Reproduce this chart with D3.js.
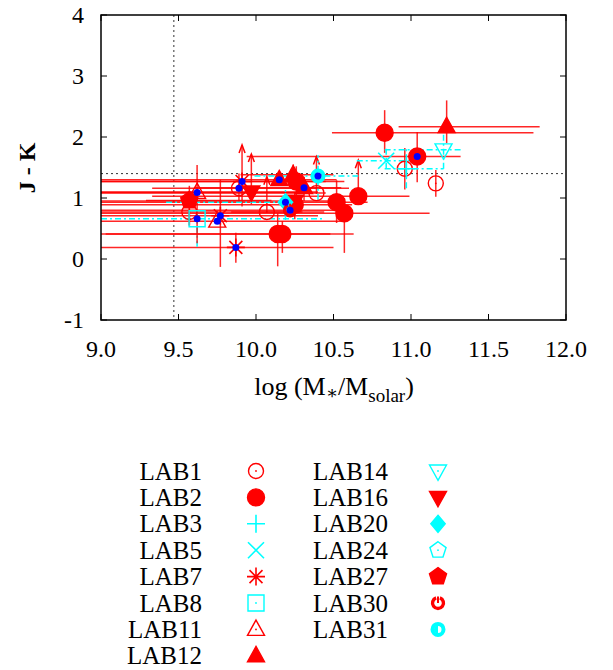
<!DOCTYPE html>
<html>
<head>
<meta charset="utf-8">
<script src="https://cdn.jsdelivr.net/npm/d3@7"></script>
<style>
body { margin: 0; background: #fff; }
text { font-family: "Liberation Serif", "DejaVu Serif", serif; fill: #000; }
</style>
</head>
<body>
<script>
// Size and plot box
const w = 613;
const h = 670;
const box = { left: 101, right: 566, top: 15, bottom: 320 };

// Axis ticks and reference lines
const xTicks = [9.0, 9.5, 10.0, 10.5, 11.0, 11.5, 12.0];
const yTicks = [-1, 0, 1, 2, 3, 4];
const xRef = 9.47;
const yRef = 1.4;

// Legend columns
const legendCol1 = ["LAB1", "LAB2", "LAB3", "LAB5", "LAB7", "LAB8", "LAB11", "LAB12"];
const legendCol2 = ["LAB14", "LAB16", "LAB20", "LAB24", "LAB27", "LAB30", "LAB31"];

// Points: x = log M, y = J-K, xl/xh & yl/yh = error range, blue = marked, up = lower-limit arrow tip
const lab1 = [
	{ x: 9.57, y: 0.77, xl: 9.0, xh: 10.3, yl: 0.55, yh: 0.95 },
	{ x: 9.89, y: 1.16, xl: 9.33, xh: 10.6, yl: 0.93, yh: 1.4, blue: true },
	{ x: 10.07, y: 0.77, xl: 9.84, xh: 10.44, up: 1.35 },
	{ x: 10.39, y: 1.08, xl: 9.0, xh: 10.45, up: 1.68 },
	{ x: 10.96, y: 1.48, yl: 1.14, yh: 1.82 },
	{ x: 11.16, y: 1.24, yl: 1.02, yh: 1.46 },
];
const lab2 = [
	{ x: 10.83, y: 2.07, xl: 10.49, xh: 11.79, yl: 1.74, yh: 2.44 },
	{ x: 11.04, y: 1.68, xl: 9.94, xh: 11.32, yl: 1.26, yh: 2.08, blue: true },
	{ x: 10.66, y: 1.03, xl: 9.33, xh: 10.99, up: 1.62 },
	{ x: 10.52, y: 0.93, xl: 9.0, xh: 10.72, yl: 0.59, yh: 1.29 },
	{ x: 10.57, y: 0.75, xl: 9.0, xh: 11.12, yl: 0.1, yh: 1.0 },
	{ x: 10.14, y: 0.41, xl: 9.03, xh: 10.63, yl: -0.12, yh: 0.75 },
	{ x: 10.17, y: 0.41, xl: 9.0, xh: 10.48, yl: 0.1, yh: 0.62 },
	{ x: 10.26, y: 1.27, xl: 9.0, xh: 10.57, yl: 1.0, yh: 1.52 },
	{ x: 10.25, y: 0.89, xl: 9.0, xh: 10.62, yl: 0.65, yh: 1.1 },
];
const lab3 = [{ x: 10.97, y: 1.48, xl: 10.83, xh: 11.21, yl: 1.16, yh: 1.82 }];
const lab5 = [{ x: 10.84, y: 1.61, xl: 10.65, xh: 11.0, yl: 1.48, yh: 1.81 }];
const lab7 = [
	{ x: 9.87, y: 0.19, xl: 9.0, xh: 10.5, yl: -0.06, yh: 0.43, blue: true },
	{ x: 9.77, y: 0.71, xl: 9.0, xh: 10.4, yl: -0.13, yh: 1.3, blue: true },
	{ x: 9.91, y: 1.27, xl: 9.0, xh: 10.45, yl: 0.86, up: 1.87, blue: true },
];
const lab8 = [{ x: 9.62, y: 0.66, xl: 9.0, xh: 10.44, yl: 0.2, yh: 0.8, blue: true }];
const lab11 = [
	{ x: 9.62, y: 1.09, xl: 9.0, xh: 10.3, yl: 0.26, yh: 1.54, blue: true },
	{ x: 9.75, y: 0.62, xl: 9.0, xh: 10.57, blue: true },
];
const lab12 = [
	{ x: 10.15, y: 1.3, xl: 9.0, xh: 10.52, blue: true },
	{ x: 10.24, y: 1.38, xl: 9.9, xh: 10.5, yl: 1.2, yh: 1.55 },
	{ x: 10.31, y: 1.17, xl: 9.6, xh: 10.55, yl: 0.95, yh: 1.35, blue: true },
	{ x: 11.23, y: 2.17, xl: 10.92, xh: 11.83, yl: 1.9, yh: 2.6 },
];
const lab14 = [{ x: 11.21, y: 1.79, xl: 10.83, xh: 11.32, yl: 1.48, yh: 2.06 }];
const lab16 = [
	{ x: 9.97, y: 1.1, xl: 9.0, xh: 10.4, yl: 0.9, up: 1.72 },
	{ x: 10.25, y: 0.95, xl: 9.0, xh: 10.55 },
];
const lab20 = [{ x: 10.19, y: 0.93, xl: 9.42, xh: 10.3, yl: 0.64, yh: 1.13, blue: true }];
const lab24 = [];
const lab27 = [{ x: 9.57, y: 0.96, xl: 9.29, xh: 10.1, yl: 0.55, yh: 1.2 }];
const lab30 = [{ x: 10.22, y: 0.8, xl: 9.0, xh: 10.5, blue: true }];
const lab31 = [{ x: 10.4, y: 1.36, xl: 9.99, xh: 10.66, yl: 0.97, yh: 1.7, blue: true }];

// Style table for each series
const red = "#ff0000";
const cyan = "#00ffff";
const series = [
	{ name: "LAB1", pts: lab1, sym: "circle", size: 7.5, color: red, fill: false },
	{ name: "LAB2", pts: lab2, sym: "circle", size: 8.5, color: red, fill: true },
	{ name: "LAB3", pts: lab3, sym: "plus", size: 9, color: cyan, fill: false, dash: true },
	{ name: "LAB5", pts: lab5, sym: "cross", size: 8, color: cyan, fill: false, dash: true },
	{ name: "LAB7", pts: lab7, sym: "star", size: 9, color: red, fill: false },
	{ name: "LAB8", pts: lab8, sym: "square", size: 8, color: cyan, fill: false, dash: true },
	{ name: "LAB11", pts: lab11, sym: "triUp", size: 8.5, color: red, fill: false },
	{ name: "LAB12", pts: lab12, sym: "triUp", size: 8.5, color: red, fill: true },
	{ name: "LAB14", pts: lab14, sym: "triDown", size: 8.5, color: cyan, fill: false, dash: true },
	{ name: "LAB16", pts: lab16, sym: "triDown", size: 8.5, color: red, fill: true },
	{ name: "LAB20", pts: lab20, sym: "diamond", size: 8.5, color: cyan, fill: true, dash: true },
	{ name: "LAB24", pts: lab24, sym: "pentagon", size: 8.5, color: cyan, fill: false, dash: true },
	{ name: "LAB27", pts: lab27, sym: "pentagon", size: 9, color: red, fill: true },
	{ name: "LAB30", pts: lab30, sym: "ringOpen", size: 5.5, color: red, fill: false },
	{ name: "LAB31", pts: lab31, sym: "ringPie", size: 5.5, color: cyan, fill: false, dash: true },
];

// Marker shapes centred on 0,0
function symPath(type, r) {
	const poly = (pts) => "M" + pts.map((p) => p.map((v) => v.toFixed(2)).join(",")).join("L") + "Z";
	switch (type) {
		case "circle":
			return `M${r},0A${r},${r} 0 1,1 ${-r},0A${r},${r} 0 1,1 ${r},0Z`;
		case "plus":
			return `M${-r},0H${r}M0,${-r}V${r}`;
		case "cross":
			return `M${-r},${-r}L${r},${r}M${-r},${r}L${r},${-r}`;
		case "star": {
			const d = r * 0.72;
			return `M${-r},0H${r}M0,${-r}V${r}M${-d},${-d}L${d},${d}M${-d},${d}L${d},${-d}`;
		}
		case "square":
			return poly([[-r, -r], [r, -r], [r, r], [-r, r]]);
		case "triUp":
			return poly([[0, -r * 1.1], [r, r * 0.7], [-r, r * 0.7]]);
		case "triDown":
			return poly([[0, r * 1.1], [r, -r * 0.7], [-r, -r * 0.7]]);
		case "diamond":
			return poly([[0, -r], [r * 0.85, 0], [0, r], [-r * 0.85, 0]]);
		case "pentagon":
			return poly(d3.range(5).map((i) => {
				const a = -Math.PI / 2 + (i * 2 * Math.PI) / 5;
				return [r * Math.cos(a), r * Math.sin(a)];
			}));
	}
	return "";
}

function drawMarker(g, s, cx, cy) {
	const m = g.append("g").attr("transform", `translate(${cx},${cy})`);
	const r = s.size;
	if (s.sym === "ringOpen") {
		// thick ring with a notch at the top and a stroke into the centre
		m.append("path")
			.attr("d", d3.arc()({ innerRadius: r - 1.7, outerRadius: r + 1.7, startAngle: 0.35, endAngle: 2 * Math.PI - 0.35 }))
			.attr("fill", s.color);
		m.append("line").attr("x1", 0).attr("x2", 0).attr("y1", -r - 1).attr("y2", 0)
			.attr("stroke", s.color).attr("stroke-width", 2);
		return m;
	}
	if (s.sym === "ringPie") {
		// thick ring with a filled quarter inside
		m.append("path")
			.attr("d", d3.arc()({ innerRadius: r - 2, outerRadius: r + 2, startAngle: 0, endAngle: 2 * Math.PI }))
			.attr("fill", s.color);
		m.append("path")
			.attr("d", d3.arc()({ innerRadius: 0, outerRadius: r - 1.5, startAngle: Math.PI, endAngle: 2 * Math.PI }))
			.attr("fill", s.color);
		return m;
	}
	const stroked = ["plus", "cross", "star"].includes(s.sym);
	m.append("path")
		.attr("d", symPath(s.sym, r))
		.attr("fill", s.fill ? s.color : "none")
		.attr("stroke", s.color)
		.attr("stroke-width", stroked ? 1.6 : 1.4)
		.attr("stroke-linejoin", "miter");
	if (!s.fill && !stroked) {
		m.append("circle").attr("r", 0.9).attr("fill", s.color);
	}
	return m;
}

// Scales
const x = d3.scaleLinear().domain([9, 12]).range([box.left, box.right]);
const y = d3.scaleLinear().domain([-1, 4]).range([box.bottom, box.top]);

const svg = d3.select("body").append("svg").attr("width", w).attr("height", h);

svg.append("defs")
	.append("clipPath")
	.attr("id", "clip")
	.append("rect")
	.attr("x", box.left)
	.attr("y", box.top)
	.attr("width", box.right - box.left)
	.attr("height", box.bottom - box.top);

// Reference lines
svg.append("line")
	.attr("x1", x(xRef)).attr("x2", x(xRef))
	.attr("y1", box.top).attr("y2", box.bottom)
	.attr("stroke", "#333").attr("stroke-width", 1).attr("stroke-dasharray", "2,3");
svg.append("line")
	.attr("x1", box.left).attr("x2", box.right)
	.attr("y1", y(yRef)).attr("y2", y(yRef))
	.attr("stroke", "#333").attr("stroke-width", 1).attr("stroke-dasharray", "2,3");

const plotG = svg.append("g").attr("clip-path", "url(#clip)");

// Error bars
series.forEach((s) => {
	s.pts.forEach((p) => {
		const bar = (x1, y1, x2, y2) => {
			const l = plotG.append("line")
				.attr("x1", x1).attr("y1", y1).attr("x2", x2).attr("y2", y2)
				.attr("stroke", s.color)
				.attr("stroke-width", 1.5)
				.attr("stroke-opacity", s.dash ? 1 : 0.85);
			if (s.dash) l.attr("stroke-dasharray", "6,3,2,3");
		};
		if (p.xl !== undefined) bar(x(p.xl), y(p.y), x(p.xh), y(p.y));
		if (p.yl !== undefined) bar(x(p.x), y(p.yl), x(p.x), y(p.yh !== undefined ? p.yh : p.y));
		if (p.up !== undefined) {
			bar(x(p.x), y(p.y), x(p.x), y(p.up));
			const tx = x(p.x), ty = y(p.up);
			plotG.append("path")
				.attr("d", `M${tx - 3},${ty + 8}L${tx},${ty}L${tx + 3},${ty + 8}`)
				.attr("fill", "none")
				.attr("stroke", s.color)
				.attr("stroke-width", 1.5);
		}
	});
});

// Markers
series.forEach((s) => {
	s.pts.forEach((p) => drawMarker(plotG, s, x(p.x), y(p.y)));
});

// Blue dots
series.forEach((s) => {
	s.pts.filter((p) => p.blue).forEach((p) => {
		plotG.append("circle")
			.attr("cx", x(p.x)).attr("cy", y(p.y))
			.attr("r", 3.5)
			.attr("fill", "#0000ff");
	});
});

// Frame and ticks
svg.append("rect")
	.attr("x", box.left).attr("y", box.top)
	.attr("width", box.right - box.left).attr("height", box.bottom - box.top)
	.attr("fill", "none").attr("stroke", "#000").attr("stroke-width", 1.5);

const tl = 6;
yTicks.forEach((t) => {
	svg.append("line").attr("x1", box.left).attr("x2", box.left + tl)
		.attr("y1", y(t)).attr("y2", y(t)).attr("stroke", "#000");
	svg.append("line").attr("x1", box.right).attr("x2", box.right - tl)
		.attr("y1", y(t)).attr("y2", y(t)).attr("stroke", "#000");
	svg.append("text")
		.attr("x", box.left - 17)
		.attr("y", y(t) + 8)
		.attr("text-anchor", "end")
		.style("font-size", "24px")
		.text(t);
});
xTicks.forEach((t) => {
	svg.append("line").attr("x1", x(t)).attr("x2", x(t))
		.attr("y1", box.bottom).attr("y2", box.bottom - tl).attr("stroke", "#000");
	svg.append("line").attr("x1", x(t)).attr("x2", x(t))
		.attr("y1", box.top).attr("y2", box.top + tl).attr("stroke", "#000");
	svg.append("text")
		.attr("x", x(t))
		.attr("y", 357)
		.attr("text-anchor", "middle")
		.style("font-size", "24px")
		.text(d3.format(".1f")(t));
});

// Axis titles
svg.append("text")
	.attr("transform", "translate(35,168) rotate(-90)")
	.attr("text-anchor", "middle")
	.style("font-size", "24px")
	.style("font-weight", "bold")
	.text("J - K");

const xl = svg.append("text")
	.attr("x", 334)
	.attr("y", 395)
	.attr("text-anchor", "middle")
	.style("font-size", "26px");
xl.append("tspan").text("log (M");
xl.append("tspan").attr("dy", 4).style("font-size", "18px").text("∗");
xl.append("tspan").attr("dy", -4).text("/M");
xl.append("tspan").attr("dy", 7).style("font-size", "19px").text("solar");
xl.append("tspan").attr("dy", -7).text(")");

// Legend
const rowH = 26.4;
const legendTop = 471;
const drawLegend = (names, textX, symX) => {
	names.forEach((n, i) => {
		const s = series.find((d) => d.name === n);
		const cy = legendTop + i * rowH;
		svg.append("text")
			.attr("x", textX)
			.attr("y", cy + 8.5)
			.attr("text-anchor", "end")
			.style("font-size", "25px")
			.text(n);
		drawMarker(svg, s, symX, cy);
	});
};
drawLegend(legendCol1, 202, 256);
drawLegend(legendCol2, 388, 438);
</script>
</body>
</html>
